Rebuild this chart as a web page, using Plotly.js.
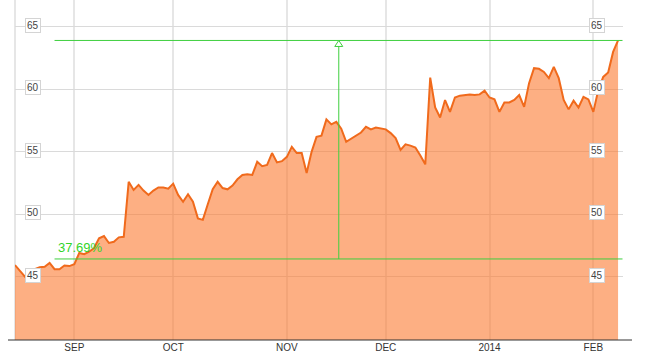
<!DOCTYPE html>
<html>
<head>
<meta charset="utf-8">
<script src="https://cdn.plot.ly/plotly-3.0.1.min.js"></script>
<style>
  html, body { margin: 0; padding: 0; background: #ffffff; }
  #chart { width: 646px; height: 359px; }
</style>
</head>
<body>
<div id="chart"></div>
<script>
// ---- data ----
var startDate = '2013-08-15';
var endDate = '2014-02-10';
var holidays = ['2013-09-02', '2013-11-28', '2013-12-25', '2014-01-01', '2014-01-20'];

var prices = [
  45.93, 45.45, 45.0, 45.3, 45.6, 45.75, 45.8, 46.1, 45.6, 45.6,
  45.9, 45.85, 46.0, 46.9, 46.8, 47.0, 47.3, 48.07, 48.25, 47.7,
  47.8, 48.15, 48.2, 52.6, 51.95, 52.35, 51.9, 51.55, 51.9, 52.15,
  52.15, 52.05, 52.45, 51.55, 51.0, 51.6, 51.0, 49.67, 49.55, 50.8,
  52.0, 52.6, 52.1, 52.0, 52.3, 52.8, 53.15, 53.2, 53.15, 54.2,
  53.85, 53.95, 54.9, 54.15, 54.25, 54.6, 55.4, 54.9, 54.9, 53.3,
  55.0, 56.2, 56.3, 57.6, 57.2, 57.4, 56.85, 55.8, 56.05, 56.3,
  56.55, 57.0, 56.8, 56.95, 56.85, 56.8, 56.5, 56.1, 55.15, 55.6,
  55.5, 55.35, 54.7, 54.0, 60.95, 58.55, 57.75, 59.15, 58.2, 59.35,
  59.5, 59.55, 59.6, 59.55, 59.6, 59.9, 59.35, 59.2, 58.2, 58.95,
  58.95, 59.15, 59.55, 58.6, 60.5, 61.7, 61.65, 61.4, 60.9, 61.8,
  60.9, 59.15, 58.4, 59.1, 58.55, 59.4, 59.2, 58.2, 59.95, 61.0,
  61.35, 63.0, 63.92
];

var tickDates = ['2013-09-03', '2013-10-01', '2013-11-01', '2013-12-02', '2014-01-02', '2014-02-03'];
var tickLabels = ['SEP', 'OCT', 'NOV', 'DEC', '2014', 'FEB'];

var yTickValues = [45, 50, 55, 60, 65];
var yTickLabels = ['45', '50', '55', '60', '65'];

var rangeLow = 46.42;
var rangeHigh = 63.92;
var rangeLabel = '37.69%';
var rangeStartDate = '2013-08-27';
var rangeArrowIndex = 65.5;

// ---- trading-day categories ----
function tradingDays(start, end, skip) {
  var out = [];
  var d = new Date(start + 'T00:00:00Z');
  var e = new Date(end + 'T00:00:00Z');
  while (d <= e) {
    var s = d.toISOString().slice(0, 10);
    var wd = d.getUTCDay();
    if (wd !== 0 && wd !== 6 && skip.indexOf(s) < 0) out.push(s);
    d.setUTCDate(d.getUTCDate() + 1);
  }
  return out;
}
var dates = tradingDays(startDate, endDate, holidays);

var FONT = 'Arial, "Liberation Sans", sans-serif';
var GREEN = '#3fcf3f';

var trace = {
  type: 'scatter',
  mode: 'lines',
  x: dates,
  y: prices,
  fill: 'tozeroy',
  fillcolor: 'rgba(252,122,48,0.6)',
  line: { color: '#f06a1c', width: 2 },
  hoverinfo: 'skip'
};

var nCat = dates.length;
var rangeStartIdx = dates.indexOf(rangeStartDate);

var annotations = [];
yTickValues.forEach(function (v, i) {
  [0.0288, 0.958].forEach(function (px) {
    annotations.push({
      xref: 'paper', yref: 'y', x: px, y: v,
      text: yTickLabels[i], showarrow: false,
      xanchor: 'center', yanchor: 'middle', yshift: 1.5,
      font: { family: FONT, size: 10, color: '#444' },
      bgcolor: '#ffffff', bordercolor: '#d4d4d4', borderwidth: 1, borderpad: 1
    });
  });
});
annotations.push({
  xref: 'x', yref: 'y', x: rangeStartIdx + 0.2, y: rangeLow,
  text: rangeLabel, showarrow: false,
  xanchor: 'left', yanchor: 'bottom', yshift: 2,
  font: { family: FONT, size: 13, color: '#33d42a' }
});

var shapes = [
  // left edge gridline
  { type: 'line', xref: 'paper', yref: 'paper', x0: 0, x1: 0, y0: 0, y1: 1,
    line: { color: '#e6e6e6', width: 2 }, layer: 'below' },
  // range lines
  { type: 'line', xref: 'x', yref: 'y', x0: rangeStartIdx, x1: nCat - 0.1, y0: rangeHigh, y1: rangeHigh,
    line: { color: GREEN, width: 1 } },
  { type: 'line', xref: 'x', yref: 'y', x0: rangeStartIdx, x1: nCat - 0.1, y0: rangeLow, y1: rangeLow,
    line: { color: GREEN, width: 1 } },
  { type: 'line', xref: 'x', yref: 'y', x0: rangeArrowIndex, x1: rangeArrowIndex, y0: rangeLow, y1: rangeHigh,
    line: { color: GREEN, width: 1 } },
  // hollow arrow head
  { type: 'path', xref: 'x', yref: 'y', xsizemode: 'pixel', ysizemode: 'pixel',
    xanchor: rangeArrowIndex, yanchor: rangeHigh,
    path: 'M-4,-6 L4,-6 L0,0 Z', fillcolor: '#ffffff', line: { color: GREEN, width: 1 } },
  // bottom axis line
  { type: 'line', xref: 'paper', yref: 'paper', x0: -0.0115, x1: 1.0148, y0: 0, y1: 0,
    line: { color: '#333333', width: 1 } }
];

var layout = {
  width: 646, height: 359,
  margin: { l: 15, r: 23, t: 0, b: 19, pad: 0 },
  paper_bgcolor: '#ffffff', plot_bgcolor: '#ffffff',
  showlegend: false,
  hovermode: false,
  xaxis: {
    type: 'category',
    range: [0, 123],
    tickmode: 'array', tickvals: tickDates, ticktext: tickLabels,
    showgrid: true, gridcolor: '#e6e6e6', gridwidth: 2,
    ticks: '', showline: false, zeroline: false,
    tickfont: { family: FONT, size: 10, color: '#333' },
    fixedrange: true
  },
  yaxis: {
    range: [39.93, 67.16],
    tickmode: 'array', tickvals: yTickValues,
    showticklabels: false,
    showgrid: true, gridcolor: '#dadada', gridwidth: 1,
    ticks: '', showline: false, zeroline: false,
    fixedrange: true
  },
  annotations: annotations,
  shapes: shapes
};

Plotly.newPlot('chart', [trace], layout, { displayModeBar: false, staticPlot: true });
</script>
</body>
</html>
